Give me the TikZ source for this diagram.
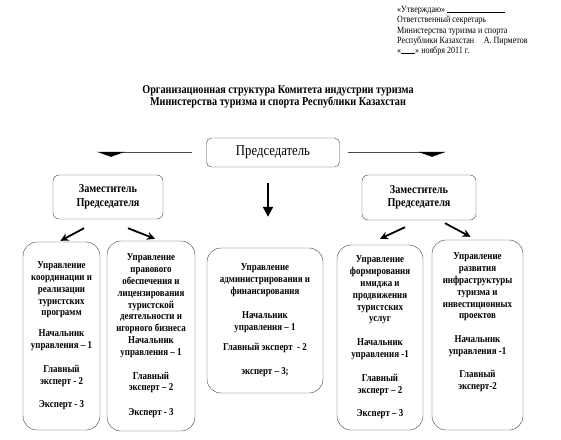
\documentclass[tikz,border=0pt]{standalone}
\usepackage{fontspec}
\setmainfont{Liberation Serif}[FakeStretch=0.85]
\usetikzlibrary{arrows.meta}
\tikzset{
  ob/.style={draw=black!75, rounded corners=14pt, fill=white, align=center,
             font=\bfseries\fontsize{10.5}{11.8}\selectfont, inner sep=2pt},
  zam/.style={draw=black!75, rounded corners=6pt, align=center,
              font=\bfseries\fontsize{12}{13.5}\selectfont},
  sa/.style={-{Stealth[length=8pt,width=8pt]}, line width=1.8pt},
  ca/.style={-{Triangle[length=10pt,width=10pt]}, line width=2pt},
  ea/.style={-{Triangle[length=5pt,width=28pt,black]}, black!70, line width=1.2pt}
}

\begin{document}
\begin{tikzpicture}[x=1pt,y=-1pt]
  \useasboundingbox (0,0) rectangle (561,439);
  \node[anchor=north west, align=left, inner sep=0pt,
        font=\fontsize{9.5}{10.3}\selectfont] (utv) at (397,6)
    {«Утверждаю» \rule{58pt}{0.5pt}\\Ответственный секретарь\\Министерства туризма и спорта\\Республики Казахстан\quad А. Пирметов\\«\rule{14pt}{0.5pt}»\ ноября 2011 г.};
  \node[align=center, font=\bfseries\fontsize{12}{12.5}\selectfont] (title) at (278,97)
    {Организационная структура Комитета индустрии туризма\\Министерства туризма и спорта Республики Казахстан};
  \node[draw=black!75, rounded corners=5pt, minimum width=133pt, minimum height=29pt,
        font=\fontsize{15}{16}\selectfont] (pred) at (273,152.5) {Председатель};
  \node[zam, minimum width=110pt, minimum height=44pt] (zamL) at (108,197) {Заместитель\\Председателя};
  \node[zam, minimum width=114pt, minimum height=45pt] (zamR) at (419,197.5) {Заместитель\\Председателя};

  \node[ob, minimum width=77pt, minimum height=188pt] (u1) at (61.5,336)
    {Управление\\координации и\\реализации\\туристских\\программ\\[9pt]Начальник\\управления – 1\\[12pt]Главный\\эксперт - 2\\[12pt]Эксперт - 3};
  \node[ob, minimum width=88pt, minimum height=190pt] (u2) at (151,336)
    {Управление\\правового\\обеспечения и\\лицензирования\\туристской\\деятельности и\\игорного бизнеса\\Начальник\\управления – 1\\[12pt]Главный\\эксперт – 2\\[13pt]Эксперт - 3};
  \node[ob, minimum width=116pt, minimum height=145pt] (u3) at (265,320.5)
    {Управление\\администрирования и\\финансирования\\[12pt]Начальник\\управления – 1\\[9pt]Главный эксперт\ \ - 2\\[12pt]эксперт – 3;};
  \node[ob, minimum width=86pt, minimum height=185pt] (u4) at (380,337.5)
    {Управление\\формирования\\имиджа и\\продвижения\\туристских\\услуг\\[12pt]Начальник\\управления -1\\[12pt]Главный\\эксперт – 2\\[12pt]Эксперт – 3};
  \node[ob, minimum width=91pt, minimum height=190pt, text depth=28pt] (u5) at (477.5,335)
    {Управление\\развития\\инфраструктуры\\туризма и\\инвестиционных\\проектов\\[12pt]Начальник\\управления -1\\[11pt]Главный\\эксперт-2};

  \draw[ea, shorten <=14pt, shorten >=18pt] (pred.west) -| ([xshift=3pt]zamL.north);
  \draw[ea, shorten <=8pt, shorten >=18pt] (pred.east) -| ([xshift=13pt]zamR.north);
  \draw[ca, shorten <=16pt, shorten >=31pt] ([xshift=-5pt]pred.south) -- ([xshift=3pt]u3.north);
  \draw[sa] ([shift={(-24,9)}]zamL.south) -- ([shift={(-1,-1)}]u1.north);
  \draw[sa] ([shift={(20,9)}]zamL.south) -- ([shift={(4,-2)}]u2.north);
  \draw[sa] ([shift={(-14,7)}]zamR.south) -- ([shift={(0,-6)}]u4.north);
  \draw[sa] ([shift={(26,3)}]zamR.south) -- ([shift={(-7,-3)}]u5.north);
\end{tikzpicture}
\end{document}
